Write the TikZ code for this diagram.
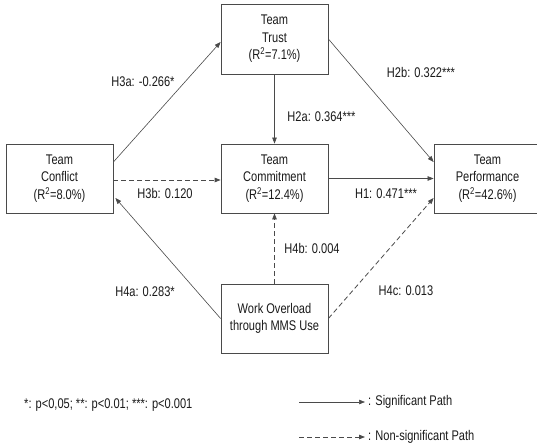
\documentclass[tikz,border=0pt]{standalone}
\usepackage{fontspec}
\setmainfont[FakeStretch=0.79]{Liberation Sans}
\usetikzlibrary{arrows.meta}
\definecolor{linec}{HTML}{4A4A4A}
\definecolor{txtc}{HTML}{1A1A1A}
\tikzset{
  box/.style={draw=linec, line width=0.8pt, inner sep=0pt, align=center,
    minimum width=107pt, minimum height=69pt,
    font=\fontsize{14}{17.5}\selectfont, text=txtc},
  lbl/.style={inner sep=0pt, font=\fontsize{14}{16}\selectfont, text=txtc},
  sig/.style={draw=linec, line width=0.6pt, -{Triangle[length=6pt,width=4.5pt]}},
  nonsig/.style={draw=linec, line width=0.8pt, dash pattern=on 5pt off 3pt, -{Triangle[length=6pt,width=4.5pt]}}
}
\begin{document}
\begin{tikzpicture}[x=1pt,y=-1pt]
\useasboundingbox (0,0) rectangle (537,444);
\fill[white] (0,0) rectangle (537,444);

\node[box, minimum height=70pt] (trust) at (274.5,39) {Team\\Trust\\(R\textsuperscript{2}=7.1\%)};
\node[box] (conflict) at (59.5,178.5) {Team\\Conflict\\(R\textsuperscript{2}=8.0\%)};
\node[box] (commit) at (274.5,178.5) {Team\\Commitment\\(R\textsuperscript{2}=12.4\%)};
\node[box] (perf) at (487.5,178.5) {Team\\Performance\\(R\textsuperscript{2}=42.6\%)};
\node[box] (work) at (274.5,318.5) {Work Overload\\through MMS Use};

\draw[sig] ([yshift=16.5pt]conflict.east) -- ([yshift=-3pt]trust.west);
\draw[nonsig] ([yshift=-1.5pt]conflict.east) -- ([yshift=-1.5pt]commit.west);
\draw[sig] (trust.south) -- (commit.north);
\draw[sig] (trust.east) -- ([yshift=16.5pt]perf.west);
\draw[sig] (commit.east) -- (perf.west);
\draw[nonsig] (work.east) -- ([yshift=-19.5pt]perf.west);
\draw[sig] (work.west) -- ([xshift=2pt,yshift=-19.5pt]conflict.east);
\draw[nonsig] (work.north) -- (commit.south);

\node[lbl] (l3a) at (143,82) {H3a: -0.266*};
\node[lbl] (l3b) at (165,193) {H3b: 0.120};
\node[lbl] (l2a) at (321.5,117) {H2a: 0.364***};
\node[lbl] (l2b) at (421,72) {H2b: 0.322***};
\node[lbl] (l1) at (386,193.5) {H1: 0.471***};
\node[lbl] (l4b) at (312,248) {H4b: 0.004};
\node[lbl] (l4a) at (145,292) {H4a: 0.283*};
\node[lbl] (l4c) at (406,291) {H4c: 0.013};

\node[lbl, anchor=west] (foot) at (24,405) {*: p<0,05; **: p<0.01; ***: p<0.001};

\coordinate (s1) at (299,402);
\coordinate (s2) at (365,402);
\draw[sig] (s1) -- (s2);
\node[lbl, anchor=west] (sigtext) at (368,402) {: Significant Path};
\coordinate (n1) at (299,437);
\coordinate (n2) at (365,437);
\draw[nonsig] (n1) -- (n2);
\node[lbl, anchor=west] (nstext) at (368,437) {: Non-significant Path};
\end{tikzpicture}
\end{document}
